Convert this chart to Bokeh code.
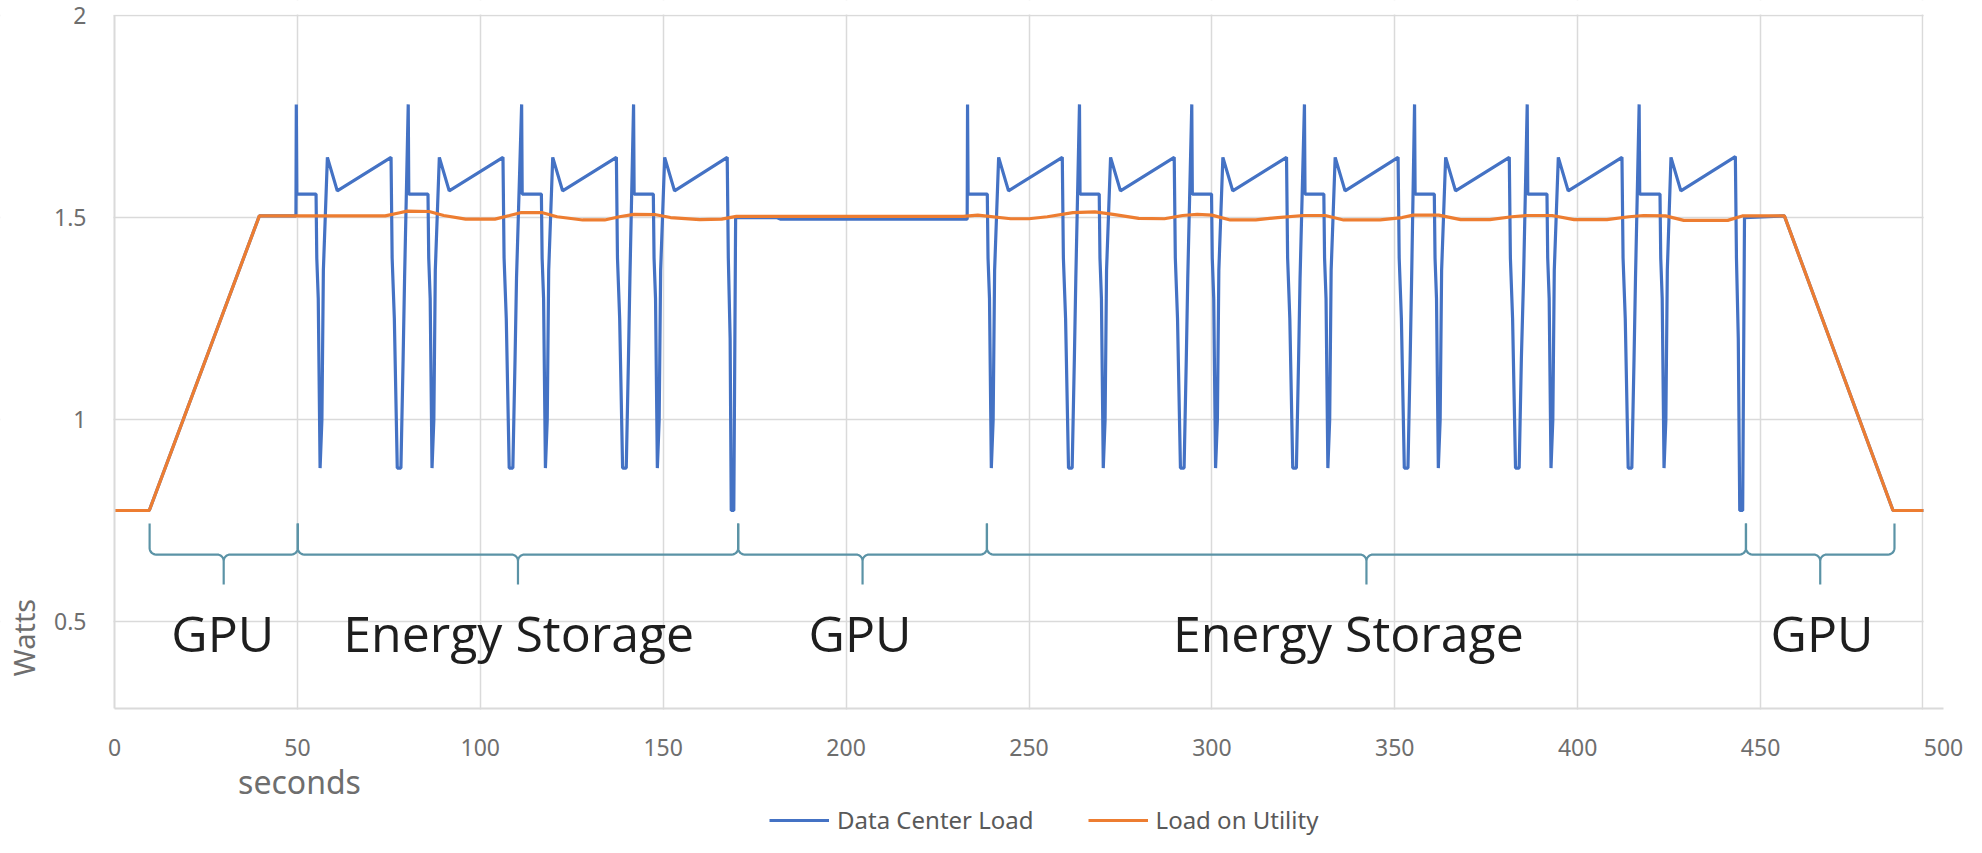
import math
from bokeh.plotting import figure
from bokeh.models import (FixedTicker, Label, Legend, LegendItem, Range1d,
                          ColumnDataSource, BoxAnnotation)
from bokeh.core.properties import value
from bokeh.embed import file_html
from bokeh.resources import INLINE

# ---------------- data ----------------
# Data Center Load (seconds, watts)
dc_t = [
    0, 9.5, 39.6, 49.6,
    # cycle 1
    49.7, 49.85, 55.1, 55.3, 55.7, 56.2, 56.7, 57.1, 58.2, 60.9, 75.6, 75.9, 76.5, 77.3, 78.3, 78.9, 79.3,
    # cycle 2
    80.3, 80.45, 85.7, 85.9, 86.3, 86.8, 87.3, 87.7, 88.8, 91.5, 106.2, 106.5, 107.1, 107.9, 108.9, 109.5, 109.9,
    # cycle 3
    111.3, 111.45, 116.7, 116.9, 117.3, 117.8, 118.3, 118.7, 119.8, 122.5, 137.2, 137.5, 138.1, 138.9, 139.9, 140.5, 140.9,
    # cycle 4
    141.9, 142.05, 147.3, 147.5, 147.9, 148.4, 148.9, 149.3, 150.4, 153.1, 167.5, 167.8, 168.3, 168.6, 169.3, 169.8,
    # GPU only
    181.0, 182.0, 233.1,
    # cycle 5
    233.2, 233.35, 238.6, 238.8, 239.2, 239.7, 240.2, 240.6, 241.7, 244.4, 259.1, 259.4, 260.0, 260.8, 261.8, 262.4, 262.8,
    # cycle 6
    263.8, 263.95, 269.2, 269.4, 269.8, 270.3, 270.8, 271.2, 272.3, 275.0, 289.7, 290.0, 290.6, 291.4, 292.4, 293.0, 293.4,
    # cycle 7
    294.5, 294.65, 299.9, 300.1, 300.5, 301.0, 301.5, 301.9, 303.0, 305.7, 320.4, 320.7, 321.3, 322.1, 323.1, 323.7, 324.1,
    # cycle 8
    325.3, 325.45, 330.6, 330.8, 331.2, 331.7, 332.2, 332.6, 333.7, 336.4, 350.9, 351.2, 351.8, 352.6, 353.6, 354.2, 354.6,
    # cycle 9
    355.4, 355.55, 360.8, 361.0, 361.4, 361.9, 362.4, 362.8, 363.9, 366.6, 381.3, 381.6, 382.2, 383.0, 384.0, 384.6, 385.2,
    # cycle 10
    386.2, 386.35, 391.6, 391.8, 392.2, 392.7, 393.2, 393.6, 394.7, 397.4, 412.1, 412.4, 413.0, 413.8, 414.8, 415.4, 415.8,
    # cycle 11
    416.8, 416.95, 422.5, 422.7, 423.1, 423.6, 424.1, 424.5, 425.5, 428.2, 443.1, 443.4, 443.9, 444.3, 445.1, 445.6,
    # GPU only
    456.5, 486.2, 494.5,
]
dc_w = [
    0.775, 0.775, 1.504, 1.504,
    1.78, 1.558, 1.558, 1.40, 1.30, 0.88, 1.0, 1.37, 1.649, 1.566, 1.649, 1.40, 1.25, 0.88, 0.88, 1.15, 1.35,
    1.78, 1.558, 1.558, 1.40, 1.30, 0.88, 1.0, 1.37, 1.649, 1.566, 1.649, 1.40, 1.25, 0.88, 0.88, 1.15, 1.35,
    1.78, 1.558, 1.558, 1.40, 1.30, 0.88, 1.0, 1.37, 1.649, 1.566, 1.649, 1.40, 1.25, 0.88, 0.88, 1.15, 1.35,
    1.78, 1.558, 1.558, 1.40, 1.30, 0.88, 1.0, 1.37, 1.649, 1.566, 1.649, 1.40, 1.2, 0.775, 0.775, 1.5,
    1.5, 1.496, 1.496,
    1.78, 1.558, 1.558, 1.40, 1.30, 0.88, 1.0, 1.37, 1.649, 1.566, 1.649, 1.40, 1.25, 0.88, 0.88, 1.15, 1.35,
    1.78, 1.558, 1.558, 1.40, 1.30, 0.88, 1.0, 1.37, 1.649, 1.566, 1.649, 1.40, 1.25, 0.88, 0.88, 1.15, 1.35,
    1.78, 1.558, 1.558, 1.40, 1.30, 0.88, 1.0, 1.37, 1.649, 1.566, 1.649, 1.40, 1.25, 0.88, 0.88, 1.15, 1.35,
    1.78, 1.558, 1.558, 1.40, 1.30, 0.88, 1.0, 1.37, 1.649, 1.566, 1.649, 1.40, 1.25, 0.88, 0.88, 1.15, 1.35,
    1.78, 1.558, 1.558, 1.40, 1.30, 0.88, 1.0, 1.37, 1.649, 1.566, 1.649, 1.40, 1.25, 0.88, 0.88, 1.15, 1.35,
    1.78, 1.558, 1.558, 1.40, 1.30, 0.88, 1.0, 1.37, 1.649, 1.566, 1.649, 1.40, 1.25, 0.88, 0.88, 1.15, 1.35,
    1.78, 1.558, 1.558, 1.40, 1.30, 0.88, 1.0, 1.37, 1.649, 1.566, 1.651, 1.40, 1.2, 0.775, 0.775, 1.5,
    1.504, 0.775, 0.775,
]

# Load on Utility (seconds, watts)
util_t = [0, 9.5, 39.6, 74, 78, 80, 86, 90, 96, 104, 108, 111, 117, 121, 128, 134, 138, 142,
          148, 152, 160, 166, 170, 182, 232, 236, 245, 250, 255, 262, 268, 273, 280, 287, 292,
          296, 300, 305, 312, 318, 325, 331, 336, 346, 352, 355, 362, 368, 376, 382, 386, 393,
          399, 408, 414, 418, 424, 429, 441, 445, 456.5, 486.2, 494.5]
util_w = [0.775, 0.775, 1.504, 1.504, 1.512, 1.516, 1.515, 1.505, 1.496, 1.496, 1.505, 1.512,
          1.512, 1.502, 1.494, 1.494, 1.502, 1.508, 1.507, 1.500, 1.495, 1.496, 1.503, 1.503,
          1.503, 1.506, 1.497, 1.497, 1.502, 1.512, 1.514, 1.508, 1.498, 1.497, 1.505, 1.508,
          1.506, 1.494, 1.494, 1.500, 1.505, 1.505, 1.494, 1.494, 1.500, 1.506, 1.506, 1.495,
          1.495, 1.502, 1.505, 1.505, 1.495, 1.495, 1.502, 1.505, 1.504, 1.493, 1.493, 1.504,
          1.504, 0.775, 0.775]

x_ticks = [0, 50, 100, 150, 200, 250, 300, 350, 400, 450, 500]
y_ticks = [0.5, 1, 1.5, 2]
y_tick_labels = ["0.5", "1", "1.5", "2"]

phase_start = [9.6, 50.1, 170.5, 238.5, 446.0]
phase_end = [50.1, 170.5, 238.5, 446.0, 486.6]
phase_label = ["GPU", "Energy Storage", "GPU", "Energy Storage", "GPU"]
phase_label_x = [29.6, 110.5, 203.8, 337.3, 466.8]

# ---------------- layout ----------------
FIG_W, FIG_H = 1966, 837
# plot area in page pixels: s=0 at 122, s=500 at 1951; W=2 at 23, W=0.285 at 716
X_LO, X_HI, PX_LO, PX_HI = 0.0, 500.0, 122.0, 1951.0
Y_LO, Y_HI, PY_LO, PY_HI = 0.285, 2.0, 716.0, 23.0
KX = (PX_HI - PX_LO) / (X_HI - X_LO)
KY = (PY_LO - PY_HI) / (Y_HI - Y_LO)
x_start = X_LO - (PX_LO - 8) / KX
x_end = X_LO + (8 + FIG_W - PX_LO) / KX
y_end = Y_HI + (PY_HI - 8) / KY
y_start = Y_HI - (8 + FIG_H - PY_HI) / KY
X_BORDER = 494.3      # right edge line of the plot area


def px_to_x(px):
    return X_LO + (px - PX_LO) / KX


def py_to_y(py):
    return Y_HI - (py - PY_HI) / KY


GRID = "#dadada"
TICK_COLOR = "#6e6e6e"
BRACE_COLOR = "#5b93a6"

p = figure(width=FIG_W, height=FIG_H, output_backend="svg", toolbar_location=None,
           x_range=Range1d(x_start, x_end), y_range=Range1d(y_start, y_end),
           min_border=0)
p.outline_line_color = None
p.background_fill_color = "white"
p.border_fill_color = "white"

# axes
p.xaxis.ticker = FixedTicker(ticks=x_ticks)
p.yaxis.ticker = FixedTicker(ticks=y_ticks)
p.yaxis.major_label_overrides = {t: s for t, s in zip(y_ticks, y_tick_labels)}
p.xaxis.fixed_location = Y_LO
p.yaxis.fixed_location = X_LO
p.xaxis.bounds = (X_LO, X_HI)
p.yaxis.bounds = (Y_LO, Y_HI)
for ax in (p.xaxis[0], p.yaxis[0]):
    ax.axis_line_color = GRID
    ax.axis_line_width = 2
    ax.major_tick_line_color = None
    ax.minor_tick_line_color = None
    ax.major_tick_out = 0
    ax.major_tick_in = 0
    ax.major_label_text_font = "Noto Sans"
    ax.major_label_text_font_size = "23px"
    ax.major_label_text_color = TICK_COLOR
p.xaxis.major_label_standoff = 30
p.yaxis.major_label_standoff = 28

p.xgrid.ticker = FixedTicker(ticks=x_ticks[1:-1] + [X_BORDER])
p.ygrid.ticker = FixedTicker(ticks=y_ticks)
p.xgrid.grid_line_color = GRID
p.ygrid.grid_line_color = GRID
p.xgrid.grid_line_width = 1.5
p.ygrid.grid_line_width = 1.5

# white masks so grid lines stop at the plot area edges
mask = dict(fill_color="white", fill_alpha=1.0, line_alpha=0, level="underlay")
p.add_layout(BoxAnnotation(top=Y_LO - 1 / KY, **mask))
p.add_layout(BoxAnnotation(bottom=Y_HI + 1 / KY, **mask))
p.add_layout(BoxAnnotation(right=X_LO - 1 / KX, **mask))
p.add_layout(BoxAnnotation(left=X_BORDER + 1 / KX, **mask))

# ---------------- braces ----------------
RX = 6.5 / KX
RY = 6.5 / KY
B_TOP_W, B_MID_W, B_PT_W = 0.743, 0.666, 0.592


def arc(cx, cy, a0, a1, n=7):
    xs, ys = [], []
    for i in range(n + 1):
        a = a0 + (a1 - a0) * i / n
        xs.append(cx + RX * math.cos(a))
        ys.append(cy + RY * math.sin(a))
    return xs, ys


brace_xs, brace_ys = [], []
for a, b in zip(phase_start, phase_end):
    m = (a + b) / 2
    xs, ys = [a], [B_TOP_W]
    for cx, cy, a0, a1 in [(a + RX, B_MID_W + RY, math.pi, 1.5 * math.pi),
                           (m - RX, B_MID_W - RY, 0.5 * math.pi, 0.0)]:
        ax_, ay_ = arc(cx, cy, a0, a1)
        xs += ax_
        ys += ay_
    xs += [m, m]
    ys += [B_PT_W, B_MID_W - RY]
    for cx, cy, a0, a1 in [(m + RX, B_MID_W - RY, math.pi, 0.5 * math.pi),
                           (b - RX, B_MID_W + RY, 1.5 * math.pi, 2 * math.pi)]:
        ax_, ay_ = arc(cx, cy, a0, a1)
        xs += ax_
        ys += ay_
    xs.append(b)
    ys.append(B_TOP_W)
    brace_xs.append(xs)
    brace_ys.append(ys)

p.multi_line(brace_xs, brace_ys, line_color=BRACE_COLOR, line_width=2.2)

label_src = ColumnDataSource(dict(x=phase_label_x, y=[py_to_y(640)] * len(phase_label_x),
                                  text=phase_label))
p.text(x="x", y="y", text="text", source=label_src, text_font=value("Open Sans"),
       text_font_size=value("50px"), text_color="#1e1e1e", text_align="center",
       text_baseline="alphabetic")

# ---------------- series ----------------
r_dc = p.line(dc_t, dc_w, line_color="#4472C4", line_width=3.2)
r_ut = p.line(util_t, util_w, line_color="#ED7D31", line_width=3.2)

# ---------------- axis titles ----------------
p.add_layout(Label(x=px_to_x(31), y=py_to_y(645), text="Watts",
                   angle=math.pi / 2, text_align="center", text_baseline="middle",
                   text_font="Noto Sans", text_font_size="29px", text_color=TICK_COLOR))
p.add_layout(Label(x=px_to_x(307), y=py_to_y(789), text="seconds",
                   text_align="center", text_baseline="alphabetic", text_font="Noto Sans",
                   text_font_size="32px", text_color=TICK_COLOR))

# ---------------- legend ----------------
legend = Legend(items=[LegendItem(label="Data Center Load", renderers=[r_dc]),
                       LegendItem(label="Load on Utility", renderers=[r_ut])],
                location=(769, 1), orientation="horizontal",
                glyph_width=60, glyph_height=20, label_standoff=8, spacing=54,
                padding=0, margin=0, border_line_color=None,
                background_fill_alpha=0,
                label_text_font="Noto Sans", label_text_font_size="24px",
                label_text_color="#595959")
p.add_layout(legend, "center")

open("out.html", "w").write(file_html(p, INLINE))
